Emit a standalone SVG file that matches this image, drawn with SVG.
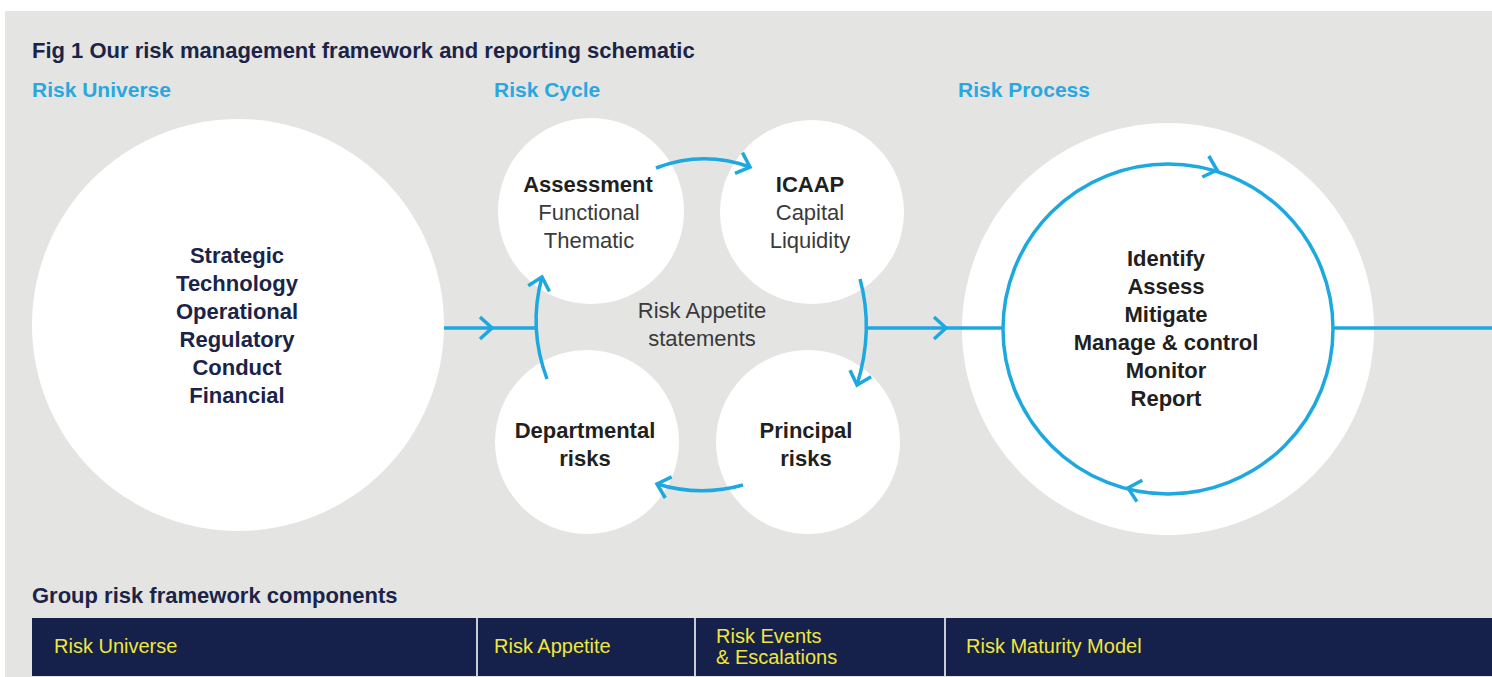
<svg xmlns="http://www.w3.org/2000/svg" width="1492" height="677" viewBox="0 0 1492 677">
<style>
.bg{fill:#e4e4e2}
.wc{fill:#ffffff}
.ln{fill:none;stroke:#1ea8e0;stroke-width:3.5}
.chev{fill:none;stroke:#1ea8e0;stroke-width:3.5;stroke-linejoin:miter}
.title{font-family:"Liberation Sans",Arial,sans-serif;font-weight:bold;font-size:22px;fill:#1b2448}
.head{font-family:"Liberation Sans",Arial,sans-serif;font-weight:bold;font-size:21px;fill:#29a8e0}
.nv{font-family:"Liberation Sans",Arial,sans-serif;font-weight:bold;font-size:22px;fill:#1b2448;text-anchor:middle}
.bk{font-family:"Liberation Sans",Arial,sans-serif;font-weight:bold;font-size:22px;fill:#231f20;text-anchor:middle}
.lt{font-family:"Liberation Sans",Arial,sans-serif;font-size:22px;fill:#3a3a3a;text-anchor:middle}
.bar{fill:#15214a}
.div{stroke:#c9ccd4;stroke-width:2}
.yl{font-family:"Liberation Sans",Arial,sans-serif;font-size:20px;fill:#f0e63c}
</style>
<defs>
<marker id="ah" markerUnits="userSpaceOnUse" markerWidth="30" markerHeight="30" refX="0" refY="0" orient="auto" overflow="visible">
<path d="M -12 -11 L 0 0 L -12 11" class="chev"/>
</marker>
</defs>
<rect x="0" y="0" width="1492" height="677" fill="#ffffff"/>
<rect class="bg" x="5" y="11" width="1487" height="666"/>
<text class="title" x="32" y="58">Fig 1 Our risk management framework and reporting schematic</text>
<text class="head" x="32" y="97">Risk Universe</text>
<text class="head" x="494" y="97">Risk Cycle</text>
<text class="head" x="958" y="97">Risk Process</text>

<g id="risk-universe">
<circle class="wc" cx="238" cy="325" r="206"/>
<text class="nv" x="237" y="263">Strategic</text>
<text class="nv" x="237" y="291">Technology</text>
<text class="nv" x="237" y="319">Operational</text>
<text class="nv" x="237" y="347">Regulatory</text>
<text class="nv" x="237" y="375">Conduct</text>
<text class="nv" x="237" y="403">Financial</text>
</g>

<g id="assessment">
<circle class="wc" cx="591" cy="211" r="93"/>
<text class="bk" x="588" y="192">Assessment</text>
<text class="lt" x="589" y="220">Functional</text>
<text class="lt" x="589" y="248">Thematic</text>
</g>
<g id="icaap">
<circle class="wc" cx="812" cy="212" r="92"/>
<text class="bk" x="810" y="192">ICAAP</text>
<text class="lt" x="810" y="220">Capital</text>
<text class="lt" x="810" y="248">Liquidity</text>
</g>
<g id="departmental">
<circle class="wc" cx="587" cy="442" r="92"/>
<text class="bk" x="585" y="438">Departmental</text>
<text class="bk" x="585" y="466">risks</text>
</g>
<g id="principal">
<circle class="wc" cx="808" cy="442" r="92"/>
<text class="bk" x="806" y="438">Principal</text>
<text class="bk" x="806" y="466">risks</text>
</g>
<g id="risk-appetite">
<text class="lt" x="702" y="318">Risk Appetite</text>
<text class="lt" x="702" y="346">statements</text>
</g>

<g id="risk-process">
<circle class="wc" cx="1168" cy="329" r="206"/>
<circle class="ln" cx="1168" cy="329" r="165"/>
<polyline class="chev" points="1208.8,156 1217,170 1202.3,177"/>
<polyline class="chev" points="1142.3,480.3 1128,488 1136.9,501.6"/>
<text class="bk" x="1166" y="266">Identify</text>
<text class="bk" x="1166" y="294">Assess</text>
<text class="bk" x="1166" y="322">Mitigate</text>
<text class="bk" x="1166" y="350">Manage &amp; control</text>
<text class="bk" x="1166" y="378">Monitor</text>
<text class="bk" x="1166" y="406">Report</text>
</g>

<g id="connectors">
<line class="ln" x1="444" y1="328" x2="537" y2="328"/>
<polyline class="chev" points="480,317 492,328 480,339"/>
<line class="ln" x1="866" y1="328" x2="1003" y2="328"/>
<polyline class="chev" points="934,317 946,328 934,339"/>
<line class="ln" x1="1333" y1="328" x2="1492" y2="328"/>
<path class="ln" d="M 656 168 Q 703 150 750 167" marker-end="url(#ah)"/>
<path class="ln" d="M 860 279 Q 874 330 857 385" marker-end="url(#ah)"/>
<path class="ln" d="M 743 485 Q 700 497 657 484" marker-end="url(#ah)"/>
<path class="ln" d="M 547 379 Q 528 328 542 277" marker-end="url(#ah)"/>
</g>

<text class="title" x="32" y="603">Group risk framework components</text>
<g id="components">
<rect class="bar" x="32" y="618" width="1460" height="58"/>
<line class="div" x1="477" y1="618" x2="477" y2="676"/>
<line class="div" x1="695" y1="618" x2="695" y2="676"/>
<line class="div" x1="945" y1="618" x2="945" y2="676"/>
<text class="yl" x="54" y="653">Risk Universe</text>
<text class="yl" x="494" y="653">Risk Appetite</text>
<text class="yl" x="716" y="643">Risk Events</text>
<text class="yl" x="716" y="664">&amp; Escalations</text>
<text class="yl" x="966" y="653">Risk Maturity Model</text>
</g>
</svg>
